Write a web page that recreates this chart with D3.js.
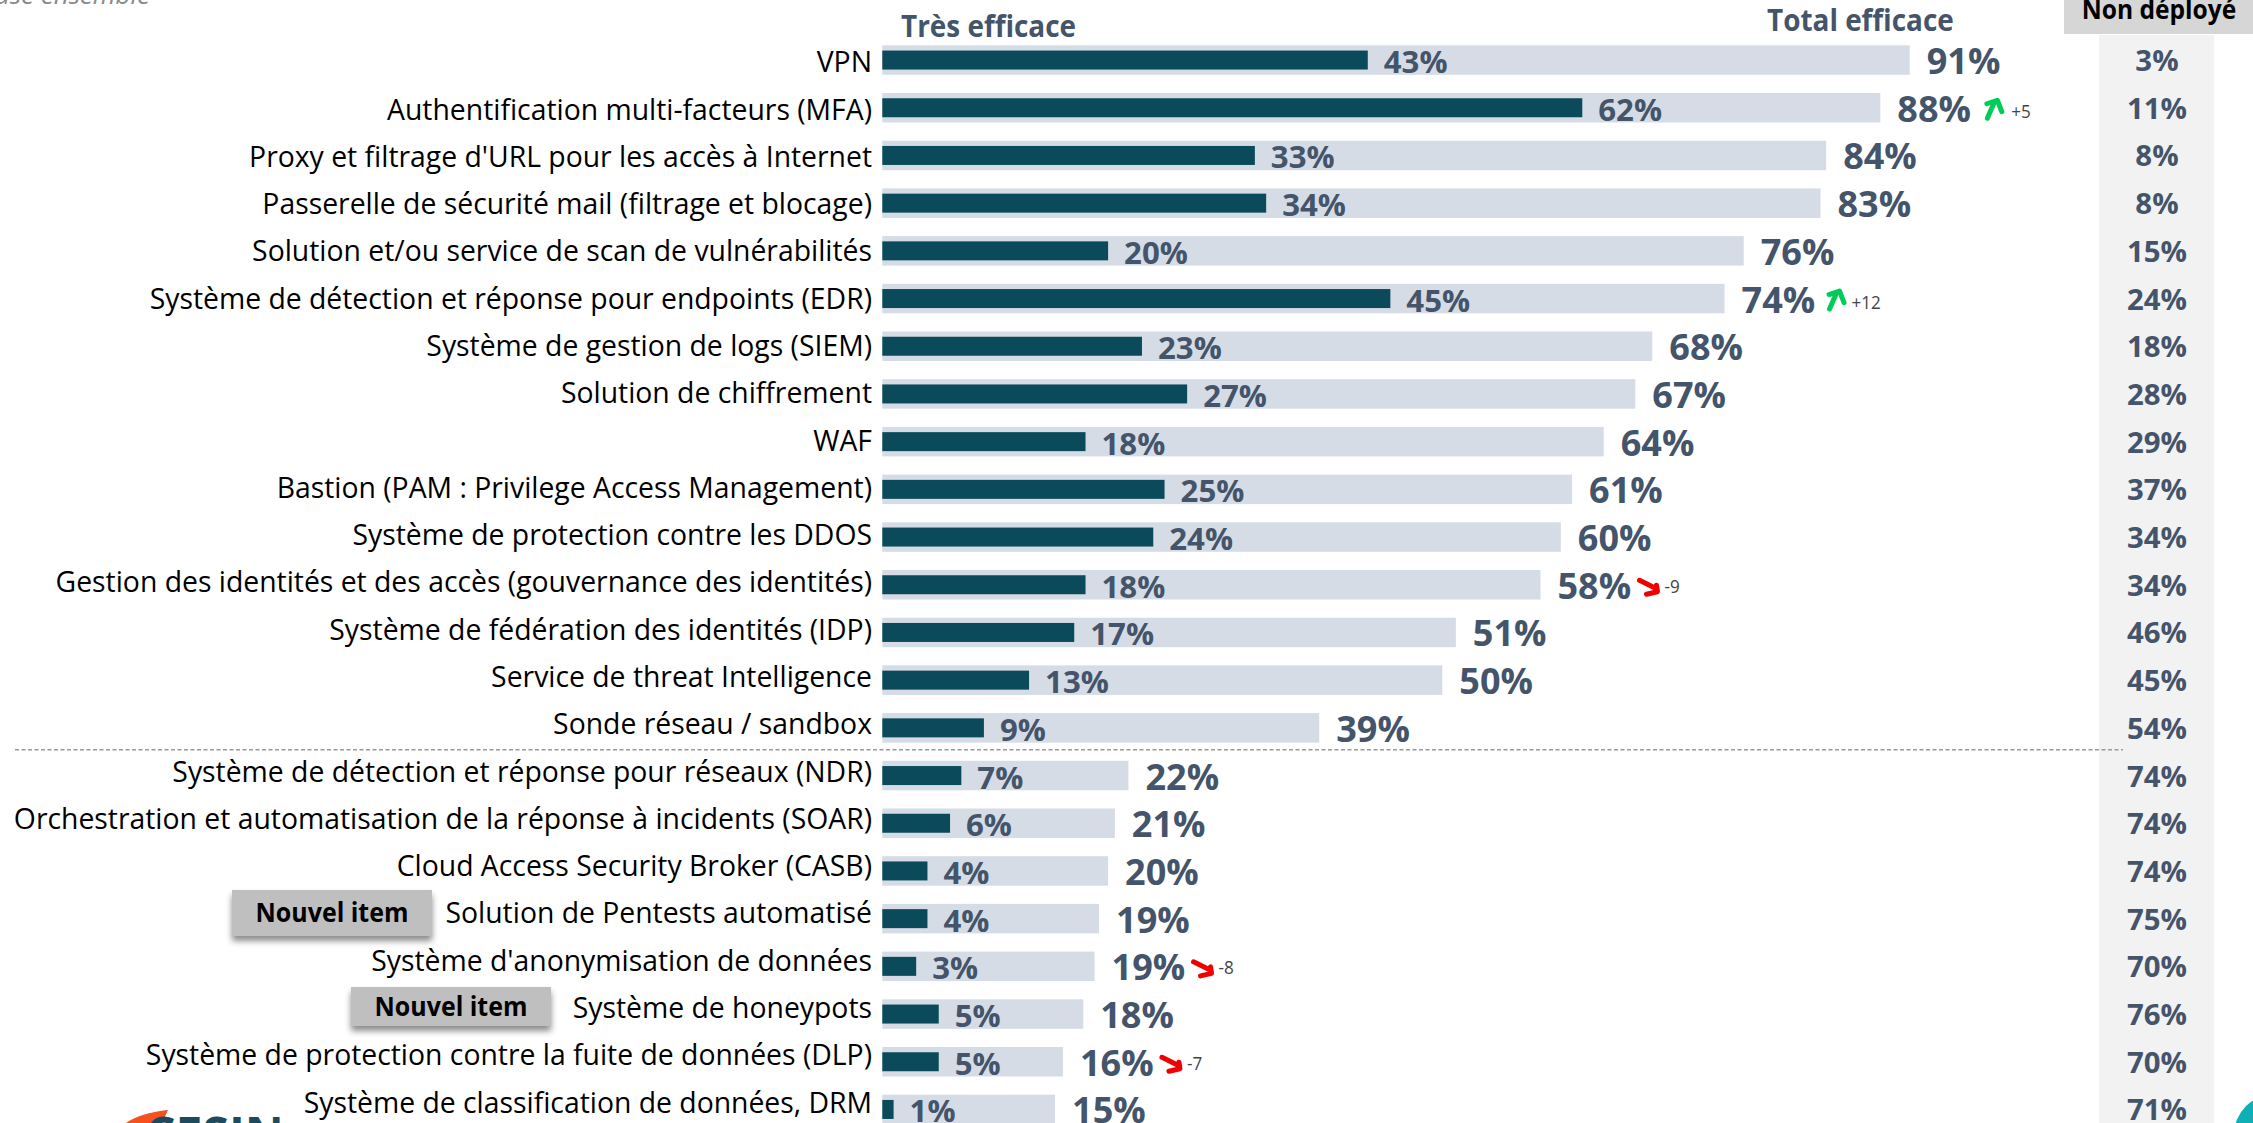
<!DOCTYPE html>
<html><head><meta charset="utf-8">
<script src="https://cdn.jsdelivr.net/npm/d3@7"></script>
<style>html,body{margin:0;padding:0;background:#fff;overflow:hidden}svg{display:block}text{font-family:"Open Sans",sans-serif}</style>
</head><body><div id="c"></div>
<script>
const categories=["VPN","Authentification multi-facteurs (MFA)","Proxy et filtrage d'URL pour les accès à Internet","Passerelle de sécurité mail (filtrage et blocage)","Solution et/ou service de scan de vulnérabilités","Système de détection et réponse pour endpoints (EDR)","Système de gestion de logs (SIEM)","Solution de chiffrement","WAF","Bastion (PAM : Privilege Access Management)","Système de protection contre les DDOS","Gestion des identités et des accès (gouvernance des identités)","Système de fédération des identités (IDP)","Service de threat Intelligence","Sonde réseau / sandbox","Système de détection et réponse pour réseaux (NDR)","Orchestration et automatisation de la réponse à incidents (SOAR)","Cloud Access Security Broker (CASB)","Solution de Pentests automatisé","Système d'anonymisation de données","Système de honeypots","Système de protection contre la fuite de données (DLP)","Système de classification de données, DRM"];
const tresEfficace=[43,62,33,34,20,45,23,27,18,25,24,18,17,13,9,7,6,4,4,3,5,5,1];
const totalEfficace=[91,88.4,83.6,83.1,76.3,74.6,68.2,66.7,63.9,61.1,60.1,58.3,50.8,49.6,38.7,21.8,20.6,20,19.2,18.8,17.8,16,15.3];
const totalLabels=[91,88,84,83,76,74,68,67,64,61,60,58,51,50,39,22,21,20,19,19,18,16,15];
const nonDeploye=[3,11,8,8,15,24,18,28,29,37,34,34,46,45,54,74,74,74,75,70,76,70,71];
const deltas=[{row:1,v:"+5"},{row:5,v:"+12"},{row:11,v:"-9"},{row:19,v:"-8"},{row:21,v:"-7"}];
const newItems=[{row:18,cx:332,w:200,top:890,h:46},{row:20,cx:451,w:200,top:987,h:39}];

const W=2253,H=1123,DARK="#0b4a5a",LIGHT="#d6dce5",INK="#44546a";
const svg=d3.select("#c").append("svg").attr("width",W).attr("height",H).attr("viewBox",`0 0 ${W} ${H}`);
const defs=svg.append("defs");
const f=defs.append("filter").attr("id","sh").attr("x","-10%").attr("y","-20%").attr("width","120%").attr("height","150%");
f.append("feDropShadow").attr("dx",0).attr("dy",5).attr("stdDeviation",3).attr("flood-color","#000").attr("flood-opacity",.45);

const x=d3.scaleLinear().domain([0,100]).range([882.3,882.3+1129]);
const rows=d3.range(categories.length);
const y=d3.scaleBand().domain(rows).range([36.2,36.2+47.7*categories.length]).paddingInner(18.2/47.7).paddingOuter(.5*(18.2/47.7)).align(.5);
const cy=i=>y(i)+y.bandwidth()/2;
const labelY=d3.scalePoint().domain(rows).range([72.3,1112.5]);

function txt(g,t,px,py,o){
  const k=o.k||1;
  return g.append("text").attr("transform",`translate(${px},${py}) scale(${k},1)`)
    .attr("text-anchor",o.a||"start").attr("font-size",o.s).attr("font-weight",o.w||400)
    .attr("font-style",o.i||null).attr("fill",o.c||"#000").text(t);
}
svg.append("rect").attr("x",2099).attr("y",35).attr("width",115).attr("height",H-35).attr("fill","#f2f2f2");
svg.append("rect").attr("x",2064).attr("y",0).attr("width",189).attr("height",34).attr("fill","#d6d6d6");
txt(svg,"Non déployé",2159,19,{a:"middle",s:27,w:700,k:.91});
txt(svg,"Très efficace",901,36.7,{s:31,w:700,c:INK,k:.9});
txt(svg,"Total efficace",1767,30.7,{s:31,w:700,c:INK,k:.9});
txt(svg,"Base ensemble",150,4,{a:"end",s:26,i:"italic",c:"#8a8a8a"});

svg.append("g").selectAll("rect").data(rows).join("rect").attr("x",x(0)).attr("y",i=>y(i)).attr("height",y.bandwidth()).attr("width",i=>x(totalEfficace[i])-x(0)).attr("fill",LIGHT);
svg.append("g").selectAll("rect").data(rows).join("rect").attr("x",x(0)).attr("y",i=>cy(i)-9.5).attr("height",19).attr("width",i=>x(tresEfficace[i])-x(0)).attr("fill",DARK);

svg.append("line").attr("x1",15).attr("x2",2123).attr("y1",749.7).attr("y2",749.7).attr("stroke","#9a9a9a").attr("stroke-width",1.6).attr("stroke-dasharray","4 2.5");

rows.forEach(i=>{
  txt(svg,categories[i],872,labelY(i),{a:"end",s:30,k:.945});
  txt(svg,tresEfficace[i]+"%",x(tresEfficace[i])+16,cy(i)+13,{s:30,w:700,c:INK,k:1.04});
  txt(svg,totalLabels[i]+"%",x(totalEfficace[i])+17,cy(i)+14,{s:35,w:700,c:INK,k:1.03});
  txt(svg,nonDeploye[i]+"%",2157,cy(i)+11,{a:"middle",s:28,w:700,c:INK,k:1.05});
});

const up=[[0,16],[7,0]],upH=[[-0.5,1.5],[10,-2],[14.5,9.5]];
const dn=[[0,0],[16,8]],dnH=[[7,14],[18,11.5],[17,5]];
const ln=d3.line();
deltas.forEach(d=>{
  const isUp=d.v[0]==="+",end=x(totalEfficace[d.row]),c=cy(d.row),wide=d.v.length>2;
  const g=svg.append("g").attr("transform",`translate(${end+(isUp?(wide?105:107):99)},${c+(isUp?-5.5:-4.5)})`);
  const col=isUp?"#00cc58":"#f00000";
  (isUp?[up,upH]:[dn,dnH]).forEach(p=>g.append("path").attr("d",ln(p)).attr("fill","none").attr("stroke",col).attr("stroke-width",5).attr("stroke-linecap","round").attr("stroke-linejoin","round"));
  txt(svg,d.v,end+(isUp?(wide?127:131):124),c+(isUp?10:8),{s:19,c:"#444",k:.9});
});

newItems.forEach(n=>{
  svg.append("rect").attr("x",n.cx-n.w/2).attr("y",n.top).attr("width",n.w).attr("height",n.h).attr("fill","#bfbfbf").attr("filter","url(#sh)");
  txt(svg,"Nouvel item",n.cx,n.top+n.h/2+9,{a:"middle",s:26,w:700,k:.96});
});

svg.append("path").attr("d","M126,1123 Q140,1113 168,1110 L162,1123 Z").attr("fill","#f4511e");
txt(svg,"CESIN",145,1152,{s:48,w:700,c:"#1d4a5c"});
svg.append("circle").attr("cx",2275).attr("cy",1135).attr("r",41).attr("fill","#0fb0b5");
</script></body></html>
